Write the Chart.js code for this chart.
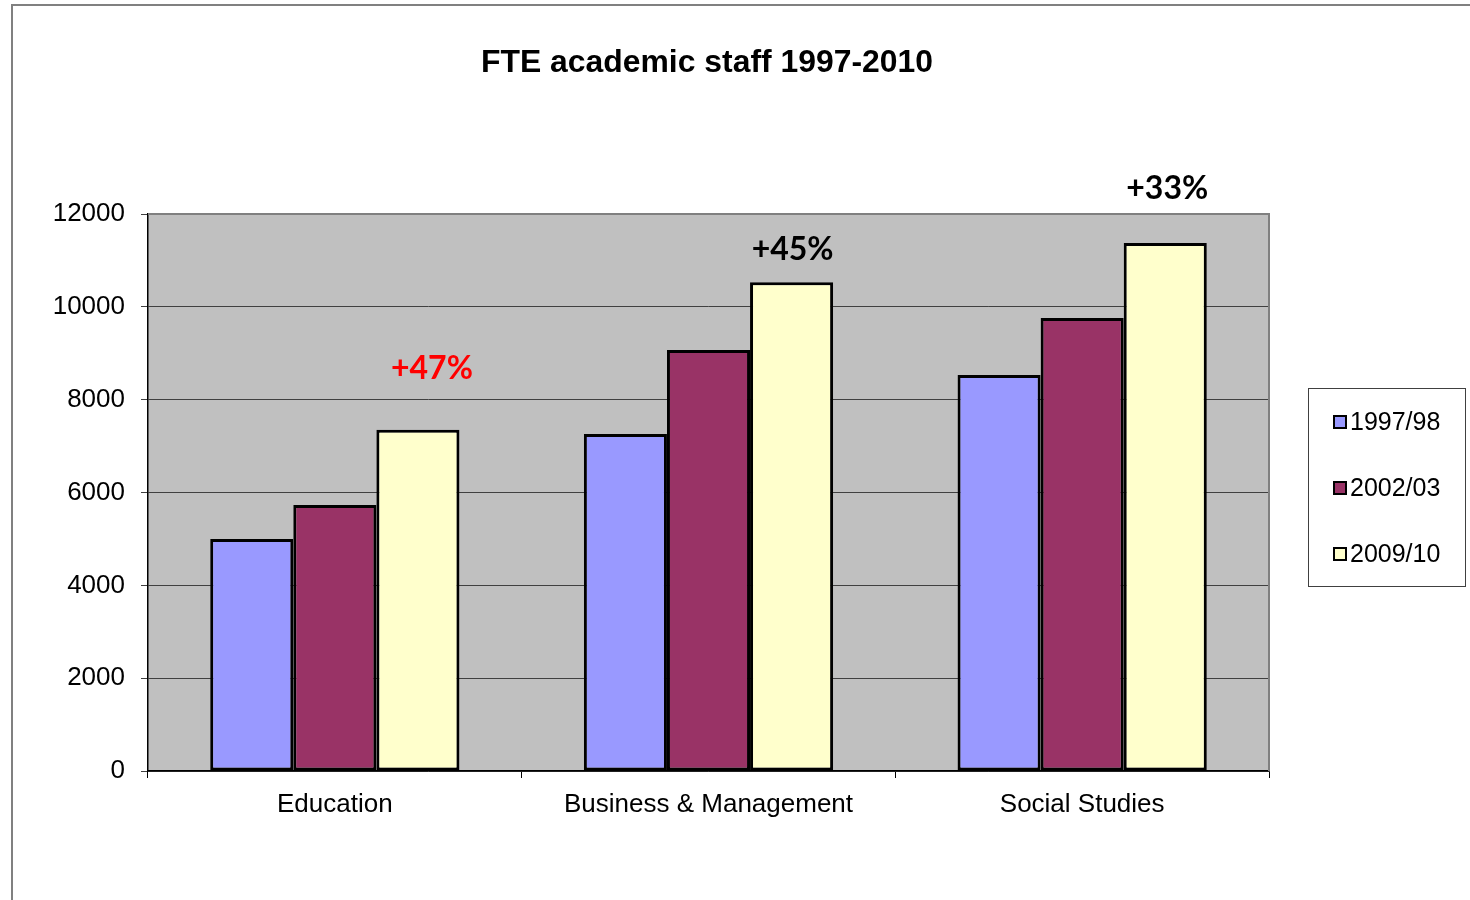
<!DOCTYPE html>
<html>
<head>
<meta charset="utf-8">
<title>FTE academic staff 1997-2010</title>
<script src="https://cdn.jsdelivr.net/npm/chart.js@4.4.1/dist/chart.umd.min.js"></script>
<style>
  html, body { margin: 0; padding: 0; background: #ffffff; }
  #wrap { width: 1470px; height: 900px; position: relative; }
</style>
</head>
<body>
<div id="wrap"><canvas id="chart" width="1470" height="900"></canvas></div>
<script>
// Subject areas and full-time-equivalent staff per academic year
const categories = ['Education', 'Business & Management', 'Social Studies'];
const seriesNames = ['1997/98', '2002/03', '2009/10'];
const staff1997 = [5000, 7260, 8530];
const staff2002 = [5730, 9070, 9760];
const staff2009 = [7350, 10530, 11375];
const growthLabels = ['+47%', '+45%', '+33%'];
const yTicks = [0, 2000, 4000, 6000, 8000, 10000, 12000];

// Styling
const seriesColors = ['#9999FF', '#993366', '#FFFFCC'];
const growthColors = ['#FF0000', '#000000', '#000000'];
const growthLift = [61, 33, 54];   // px above the 2009/10 bar top
const growthShift = [14, 1, 2];    // px right of the bar centre
const FONT = '"Liberation Sans", Arial, sans-serif';

const frameAndBackground = {
  id: 'frameAndBackground',
  beforeDraw(chart) {
    const ctx = chart.ctx;
    const a = chart.chartArea;
    ctx.save();
    // outer frame
    ctx.strokeStyle = '#808080';
    ctx.lineWidth = 2;
    ctx.strokeRect(12, 5, 2000, 2000);
    // plot area fill
    ctx.fillStyle = '#C0C0C0';
    ctx.fillRect(a.left, a.top, a.right - a.left, a.bottom - a.top);
    ctx.restore();
  },
  afterDatasetsDraw(chart) {
    const ctx = chart.ctx;
    const a = chart.chartArea;
    ctx.save();
    // plot border top and right
    ctx.strokeStyle = '#808080';
    ctx.lineWidth = 2;
    ctx.beginPath();
    ctx.moveTo(a.left, a.top);
    ctx.lineTo(a.right, a.top);
    ctx.lineTo(a.right, a.bottom);
    ctx.stroke();

    // title
    ctx.fillStyle = '#000';
    ctx.font = 'bold 31px ' + FONT;
    ctx.textAlign = 'center';
    ctx.textBaseline = 'middle';
    const title = 'FTE academic staff 1997-2010';
    const w = ctx.measureText(title).width;
    ctx.save();
    ctx.translate(707, 63);
    ctx.scale(452 / w, 1);
    ctx.fillText(title, 0, 0);
    ctx.restore();

    // growth labels above the newest bars
    const meta = chart.getDatasetMeta(2);
    ctx.font = 'bold 32px Lato, "Open Sans", sans-serif';
    meta.data.forEach((bar, i) => {
      ctx.fillStyle = growthColors[i];
      ctx.fillText(growthLabels[i], bar.x + growthShift[i], bar.y - growthLift[i]);
    });

    // legend box
    const lx = 1308, ly = 388, lw = 157, lh = 198;
    ctx.fillStyle = '#fff';
    ctx.fillRect(lx, ly, lw, lh);
    ctx.strokeStyle = '#404040';
    ctx.lineWidth = 1;
    ctx.strokeRect(lx + 0.5, ly + 0.5, lw, lh);
    ctx.textAlign = 'left';
    ctx.font = '25px ' + FONT;
    chart.data.datasets.forEach((ds, i) => {
      const cy = 422 + i * 66;
      ctx.fillStyle = ds.backgroundColor;
      ctx.fillRect(1334, cy - 6, 12, 12);
      ctx.strokeStyle = '#000';
      ctx.lineWidth = 2;
      ctx.strokeRect(1334, cy - 6, 12, 12);
      ctx.fillStyle = '#000';
      ctx.fillText(ds.label, 1350, cy + 1);
    });
    ctx.restore();
  }
};

const datasets = [staff1997, staff2002, staff2009].map((vals, i) => ({
  label: seriesNames[i],
  data: vals,
  backgroundColor: seriesColors[i],
  borderColor: '#000000',
  borderWidth: 3,
  borderSkipped: false,
  categoryPercentage: 0.667,
  barPercentage: 1.0
}));

new Chart(document.getElementById('chart'), {
  type: 'bar',
  data: { labels: categories, datasets },
  options: {
    responsive: false,
    animation: false,
    layout: { padding: { left: 0, top: 214, right: 201, bottom: 0 } },
    plugins: {
      legend: { display: false },
      title: { display: false },
      tooltip: { enabled: false }
    },
    scales: {
      x: {
        offset: true,
        grid: {
          offset: true,
          drawOnChartArea: false,
          color: '#000',
          tickLength: 7,
          lineWidth: 1
        },
        border: { color: '#000', width: 1.5 },
        ticks: {
          color: '#000',
          font: { family: FONT, size: 26 },
          padding: 11,
          maxRotation: 0
        },
        afterFit(scale) { scale.height = 129; }
      },
      y: {
        min: 0,
        max: 12000,
        afterBuildTicks(scale) { scale.ticks = yTicks.map(v => ({ value: v })); },
        grid: {
          color: '#404040',
          lineWidth: 1,
          tickLength: 7
        },
        border: { color: '#000', width: 1.5 },
        ticks: {
          color: '#000',
          font: { family: FONT, size: 26 },
          padding: 16,
          callback: (v) => String(v)
        },
        afterFit(scale) { scale.width = 148; }
      }
    }
  },
  plugins: [frameAndBackground]
});
</script>
</body>
</html>
